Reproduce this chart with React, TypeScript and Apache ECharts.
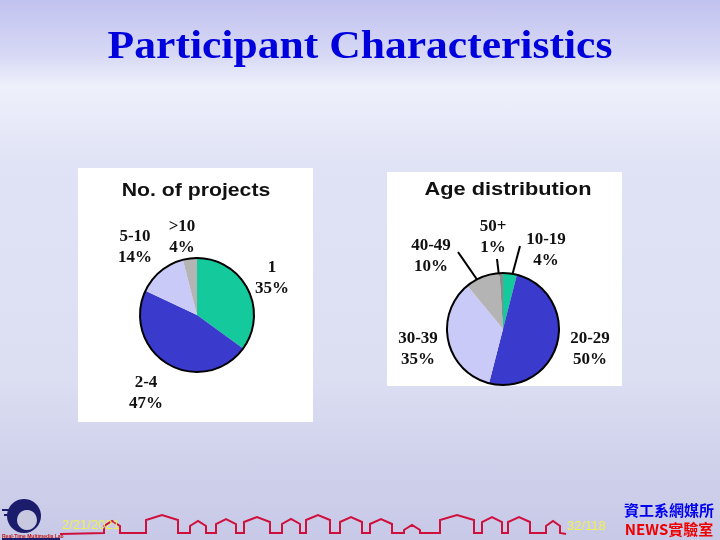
import React, { useEffect, useRef } from "react";
import * as echarts from "echarts";

const projectCategories = ["1", "2-4", "5-10", ">10"];
const projectValues = [35, 47, 14, 4];
const ageCategories = ["10-19", "20-29", "30-39", "40-49", "50+"];
const ageValues = [4, 50, 35, 10, 1];

const projectColors = ["#14c99c", "#3a3acc", "#cacaf8", "#b4b4b4"];
const ageColors = ["#14c99c", "#3a3acc", "#cacaf8", "#b4b4b4", "#8a8a8a"];

const projectLabelPos = [[272, 277], [146, 392], [135, 246], [182, 236]];
const ageLabelPos = [[546, 249], [590, 348], [418, 348], [431, 255], [493, 236]];

const houses = [
  [104, 120, 12], [146, 178, 18], [190, 206, 12], [216, 236, 14], [244, 270, 16],
  [282, 300, 14], [306, 330, 18], [340, 362, 16], [370, 392, 14], [404, 420, 8],
  [440, 474, 18], [482, 502, 16], [508, 530, 16], [546, 560, 12],
];

function skylinePoints() {
  const base = 533;
  const pts: number[][] = [[60, base + 1]];
  houses.forEach(([x0, x1, h]) => {
    pts.push([x0, base]);
    pts.push([x0, base - h + 5]);
    pts.push([(x0 + x1) / 2, base - h]);
    pts.push([x1, base - h + 5]);
    pts.push([x1, base]);
  });
  pts.push([566, base + 1]);
  return pts;
}

export default function App() {
  const ref = useRef<HTMLDivElement>(null);
  useEffect(() => {
    if (!ref.current) return;
    const chart = echarts.init(ref.current, undefined, { renderer: "svg" });
    const labelFont = {
      fontFamily: "Liberation Serif",
      fontWeight: "bold" as const,
      fontSize: 17,
      lineHeight: 21,
      color: "#111",
    };
    const option: any = {
      animation: false,
      graphic: [
        {
          type: "rect",
          z: -10,
          shape: { x: 0, y: 0, width: 720, height: 540 },
          style: {
            fill: {
              type: "linear", x: 0, y: 0, x2: 0, y2: 1,
              colorStops: [
                { offset: 0, color: "#c2c2ef" },
                { offset: 0.1, color: "#d6d8f5" },
                { offset: 0.16, color: "#eef0fb" },
                { offset: 0.3, color: "#e0e3f5" },
                { offset: 0.7, color: "#dcdff2" },
                { offset: 0.85, color: "#d0d2ec" },
                { offset: 1, color: "#c8c9e7" },
              ],
            },
          },
        },
        { type: "rect", z: -5, shape: { x: 78, y: 168, width: 235, height: 254 }, style: { fill: "#ffffff" } },
        { type: "rect", z: -5, shape: { x: 387, y: 172, width: 235, height: 214 }, style: { fill: "#ffffff" } },
        {
          type: "text", x: 360, y: 45, scaleX: 1.09,
          style: {
            text: "Participant Characteristics", fill: "#0000dd",
            font: "bold 40px 'Liberation Serif'", textAlign: "center", textVerticalAlign: "middle",
          },
        },
        {
          type: "text", x: 196, y: 190, scaleX: 1.18,
          style: {
            text: "No. of projects", fill: "#111",
            font: "bold 18px 'Liberation Sans'", textAlign: "center", textVerticalAlign: "middle",
          },
        },
        {
          type: "text", x: 508, y: 189, scaleX: 1.21,
          style: {
            text: "Age distribution", fill: "#111",
            font: "bold 18px 'Liberation Sans'", textAlign: "center", textVerticalAlign: "middle",
          },
        },
        { type: "line", shape: { x1: 458, y1: 252, x2: 478, y2: 281 }, style: { stroke: "#000", lineWidth: 2 } },
        { type: "line", shape: { x1: 497, y1: 259, x2: 499, y2: 276 }, style: { stroke: "#000", lineWidth: 2 } },
        { type: "line", shape: { x1: 520, y1: 246, x2: 512, y2: 276 }, style: { stroke: "#000", lineWidth: 2 } },
        // footer
        { type: "polyline", shape: { points: skylinePoints() }, style: { stroke: "#d0103c", lineWidth: 2, fill: "none" } },
        { type: "ellipse", shape: { cx: 24, cy: 516, rx: 17, ry: 17 }, style: { fill: "#1c1c6c" } },
        { type: "circle", shape: { cx: 27, cy: 520, r: 10 }, style: { fill: "#c8c8e0" } },
        { type: "line", shape: { x1: 2, y1: 510, x2: 14, y2: 510 }, style: { stroke: "#1c1c6c", lineWidth: 2 } },
        { type: "line", shape: { x1: 4, y1: 515, x2: 12, y2: 515 }, style: { stroke: "#1c1c6c", lineWidth: 2 } },
        {
          type: "text", x: 2, y: 536,
          style: { text: "Real-Time Multimedia Lab", fill: "#c01818", font: "bold 5px 'Liberation Sans'", textVerticalAlign: "middle" },
        },
        { type: "line", shape: { x1: 2, y1: 539, x2: 60, y2: 539 }, style: { stroke: "#1c1c6c", lineWidth: 2 } },
        {
          type: "text", x: 62, y: 524,
          style: { text: "2/21/2021", fill: "#f0f050", font: "13px 'Liberation Sans'", textVerticalAlign: "middle" },
        },
        {
          type: "text", x: 567, y: 525,
          style: { text: "32/118", fill: "#f0f050", font: "13px 'Liberation Sans'", textVerticalAlign: "middle" },
        },
        {
          type: "text", x: 669, y: 509,
          style: { text: "資工系網媒所", fill: "#0000ee", font: "bold 15px 'Noto Sans CJK TC'", textAlign: "center", textVerticalAlign: "middle" },
        },
        {
          type: "text", x: 669, y: 528,
          style: { text: "NEWS實驗室", fill: "#ee0000", font: "bold 15px 'Noto Sans CJK TC'", textAlign: "center", textVerticalAlign: "middle" },
        },
      ],
      series: [
        {
          type: "pie",
          center: [197, 315],
          radius: 57,
          startAngle: 90,
          clockwise: true,
          silent: true,
          itemStyle: { borderWidth: 0 },
          label: { show: true, formatter: "{b}\n{c}%", ...labelFont },
          labelLine: { show: false },
          labelLayout: (p: any) => ({
            x: projectLabelPos[p.dataIndex][0],
            y: projectLabelPos[p.dataIndex][1],
            align: "center",
            verticalAlign: "middle",
          }),
          data: projectCategories.map((name, i) => ({
            name, value: projectValues[i], itemStyle: { color: projectColors[i] },
          })),
        },
        {
          type: "pie",
          center: [197, 315],
          radius: 57,
          silent: true,
          z: 3,
          label: { show: false },
          labelLine: { show: false },
          itemStyle: { color: "rgba(0,0,0,0)", borderColor: "#000", borderWidth: 2 },
          data: [{ name: "outline", value: 1 }],
        },
        {
          type: "pie",
          center: [503, 329],
          radius: 56,
          startAngle: 90,
          clockwise: true,
          silent: true,
          itemStyle: { borderWidth: 0 },
          label: { show: true, formatter: "{b}\n{c}%", ...labelFont },
          labelLine: { show: false },
          labelLayout: (p: any) => ({
            x: ageLabelPos[p.dataIndex][0],
            y: ageLabelPos[p.dataIndex][1],
            align: "center",
            verticalAlign: "middle",
          }),
          data: ageCategories.map((name, i) => ({
            name, value: ageValues[i], itemStyle: { color: ageColors[i] },
          })),
        },
        {
          type: "pie",
          center: [503, 329],
          radius: 56,
          silent: true,
          z: 3,
          label: { show: false },
          labelLine: { show: false },
          itemStyle: { color: "rgba(0,0,0,0)", borderColor: "#000", borderWidth: 2 },
          data: [{ name: "outline", value: 1 }],
        },
      ],
    };
    chart.setOption(option);
    return () => chart.dispose();
  }, []);
  return (
    <div
      ref={ref}
      style={{ position: "fixed", left: 0, top: 0, width: 720, height: 540 }}
    />
  );
}
